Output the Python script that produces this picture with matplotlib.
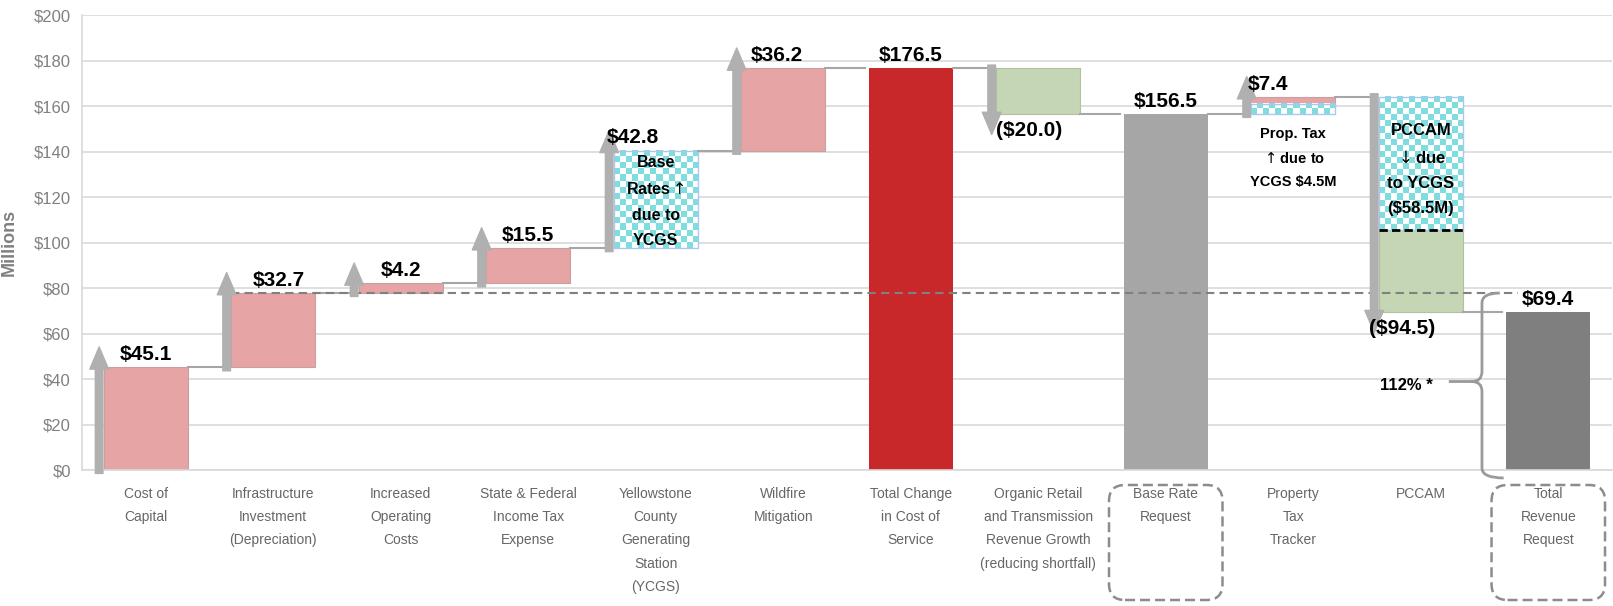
import numpy as np
import matplotlib.pyplot as plt
from matplotlib.patches import FancyArrowPatch, FancyBboxPatch, PathPatch
from matplotlib.path import Path
from matplotlib.colors import ListedColormap
from matplotlib.transforms import IdentityTransform

categories = [
    'Cost of\nCapital',
    'Infrastructure\nInvestment\n(Depreciation)',
    'Increased\nOperating\nCosts',
    'State & Federal\nIncome Tax\nExpense',
    'Yellowstone\nCounty\nGenerating\nStation\n(YCGS)',
    'Wildfire\nMitigation',
    'Total Change\nin Cost of\nService',
    'Organic Retail\nand Transmission\nRevenue Growth\n(reducing shortfall)',
    'Base Rate\nRequest',
    'Property\nTax\nTracker',
    'PCCAM',
    'Total\nRevenue\nRequest',
]
steps = [45.1, 32.7, 4.2, 15.5, 42.8, 36.2, 176.5, -20.0, 156.5, 7.4, -94.5, 69.4]
is_total = [False, False, False, False, False, False, True, False, True, False, False, True]
ycgs_part = [0, 0, 0, 0, 42.8, 0, 0, 0, 0, 4.5, 58.5, 0]
value_labels = ['$45.1', '$32.7', '$4.2', '$15.5', '$42.8', '$36.2', '$176.5',
                '($20.0)', '$156.5', '$7.4', '($94.5)', '$69.4']
total_colors = {6: '#c8282a', 8: '#a6a6a6', 11: '#7f7f7f'}
ratio_level = 77.8   # infrastructure step top, 112% of total request

FONT = ['Liberation Sans', 'DejaVu Sans']

# running waterfall levels
starts, ends = [], []
running = 0
for v, tot in zip(steps, is_total):
    if tot:
        starts.append(0)
        ends.append(v)
        running = v
    else:
        starts.append(running)
        running += v
        ends.append(running)

fig = plt.figure(figsize=(16.13, 6.06), dpi=100)
ax = fig.add_axes([0.0508, 0.2244, 0.9486, 0.7508])
ax.set_xlim(-0.5, 11.5)
ax.set_ylim(0, 200)

w = 0.66
checker_cmap = ListedColormap(['#ffffff', '#7fdde0'])

for i in range(len(steps)):
    s, e = starts[i], ends[i]
    if is_total[i]:
        ax.bar(i, e - s, bottom=s, width=w, color=total_colors[i], zorder=2)
        continue
    sign = 1 if e > s else -1
    color = '#e6a4a5' if sign > 0 else '#c4d6b4'
    edge = '#c9a0a0' if sign > 0 else '#b0c0a0'
    split = s + sign * ycgs_part[i]
    if abs(e - split) > 1e-9:
        ax.bar(i, e - split, bottom=split, width=w, color=color,
               edgecolor=edge, linewidth=0.8, zorder=2)
    if ycgs_part[i]:
        lo, hi = sorted([s, split])
        nx = 14
        ny = max(2, int(round((hi - lo) * 2.275 / 6)))
        board = np.indices((ny, nx)).sum(axis=0) % 2
        ax.imshow(board, cmap=checker_cmap, extent=(i - w / 2, i + w / 2, lo, hi),
                  aspect='auto', interpolation='nearest', zorder=2)
        ax.add_patch(plt.Rectangle((i - w / 2, lo), w, hi - lo, fill=False,
                                   ec='#a8c8ee', lw=1.0, zorder=2.5))
    if i == 10:
        ax.plot([i - w / 2, i + w / 2], [split, split], color='black', lw=2,
                ls=(0, (3, 1.5)), zorder=3)

    # direction arrow on the left edge
    ax_x = i - w / 2 - 0.035
    tip = e + sign * 9
    ax.add_patch(FancyArrowPatch((ax_x, s - sign * 1.5), (ax_x, tip),
                                 arrowstyle='simple,head_length=1.6,head_width=1.35,tail_width=0.55',
                                 mutation_scale=10, color='#b0b0b0', shrinkA=0, shrinkB=0,
                                 zorder=4, clip_on=False))

# connector lines
for i in range(len(steps) - 1):
    ax.plot([i + w / 2, i + 1 - w / 2 - 0.03], [ends[i], ends[i]],
            color='#a6a6a6', lw=1.5, zorder=3)

# reference level for the 112% comparison
ax.plot([1 - w / 2, 10.76], [ratio_level, ratio_level], color='#808080', lw=1.5,
        ls=(0, (4, 2.5)), zorder=3.5)

# value labels
label_dx = [0, 0.04, 0, 0, -0.18, -0.05, 0, -0.07, 0, -0.2, -0.15, 0]
for i, txt in enumerate(value_labels):
    down = (not is_total[i]) and steps[i] < 0
    y = ends[i] - 3 if down else ends[i] + 1.5
    ax.text(i + label_dx[i], y, txt, ha='center', va='top' if down else 'bottom',
            fontsize=15, fontweight='bold', family=FONT, zorder=5)

ax.text(4, 118, 'Base\nRates${\\uparrow}$\ndue to\nYCGS', ha='center', va='center',
        fontsize=11.5, fontweight='bold', family=FONT, linespacing=1.85, zorder=5)
ax.text(9, 151, 'Prop. Tax\n${\\uparrow}$due to\nYCGS \\$4.5M', ha='center', va='top',
        fontsize=10.5, fontweight='bold', family=FONT, linespacing=1.85, zorder=5)
ax.text(10, 132, 'PCCAM\n${\\downarrow}$due\nto YCGS\n(\\$58.5M)', ha='center', va='center',
        fontsize=12, fontweight='bold', family=FONT, linespacing=1.85, zorder=5)
ax.text(9.89, 37, '112% *', ha='center', va='center', fontsize=12,
        fontweight='bold', family=FONT, zorder=5)

# curly brace spanning the total request up to the reference level
bx, by_top, by_bot, by_mid = 10.48, ratio_level, -3.5, ratio_level / 2
r_x, r_y = 0.08, 4.4
verts = [
    (bx + 0.14, by_top), (bx, by_top), (bx, by_top - r_y),
    (bx, by_mid + r_y), (bx, by_mid), (bx - r_x, by_mid),
    (10.22, by_mid),
    (bx - r_x, by_mid), (bx, by_mid), (bx, by_mid - r_y),
    (bx, by_bot + r_y), (bx, by_bot), (bx + 0.17, by_bot),
]
codes = [Path.MOVETO, Path.CURVE3, Path.CURVE3,
         Path.LINETO, Path.CURVE3, Path.CURVE3,
         Path.LINETO,
         Path.MOVETO, Path.CURVE3, Path.CURVE3,
         Path.LINETO, Path.CURVE3, Path.CURVE3]
ax.add_patch(PathPatch(Path(verts, codes), fill=False, ec='#9a9a9a', lw=2,
                       zorder=4, clip_on=False))

# axes styling
ax.set_yticks(np.arange(0, 201, 20))
ax.set_yticklabels([f'${v}' for v in range(0, 201, 20)], family=FONT,
                   fontsize=12, color='#808080')
ax.set_xticks(range(len(categories)))
ax.set_xticklabels(categories, family=FONT, fontsize=10, color='#666666',
                   linespacing=1.85, va='top')
ax.tick_params(axis='both', length=0)
ax.tick_params(axis='x', pad=12)
ax.tick_params(axis='y', pad=8)
ax.grid(axis='y', color='#d9d9d9', lw=1.2, zorder=0)
ax.set_axisbelow(True)
for side in ['top', 'right']:
    ax.spines[side].set_visible(False)
for side in ['left', 'bottom']:
    ax.spines[side].set_color('#d9d9d9')
    ax.spines[side].set_linewidth(1.2)
ax.set_ylabel('Millions', family=FONT, fontsize=13, fontweight='bold', color='#808080')
ax.yaxis.set_label_coords(-0.042, 0.5)

# dashed rounded frames around the request labels
for c in [8, 11]:
    x0 = ax.transData.transform((c - 0.445, 0))[0]
    x1 = ax.transData.transform((c + 0.445, 0))[0]
    fig.add_artist(FancyBboxPatch((x0, 6), x1 - x0, 115,
                                  boxstyle='round,pad=0,rounding_size=16',
                                  transform=IdentityTransform(), fill=False,
                                  ec='#8c8c8c', lw=1.8, ls=(0, (4, 2))))

fig.savefig('out.png', dpi=100)
